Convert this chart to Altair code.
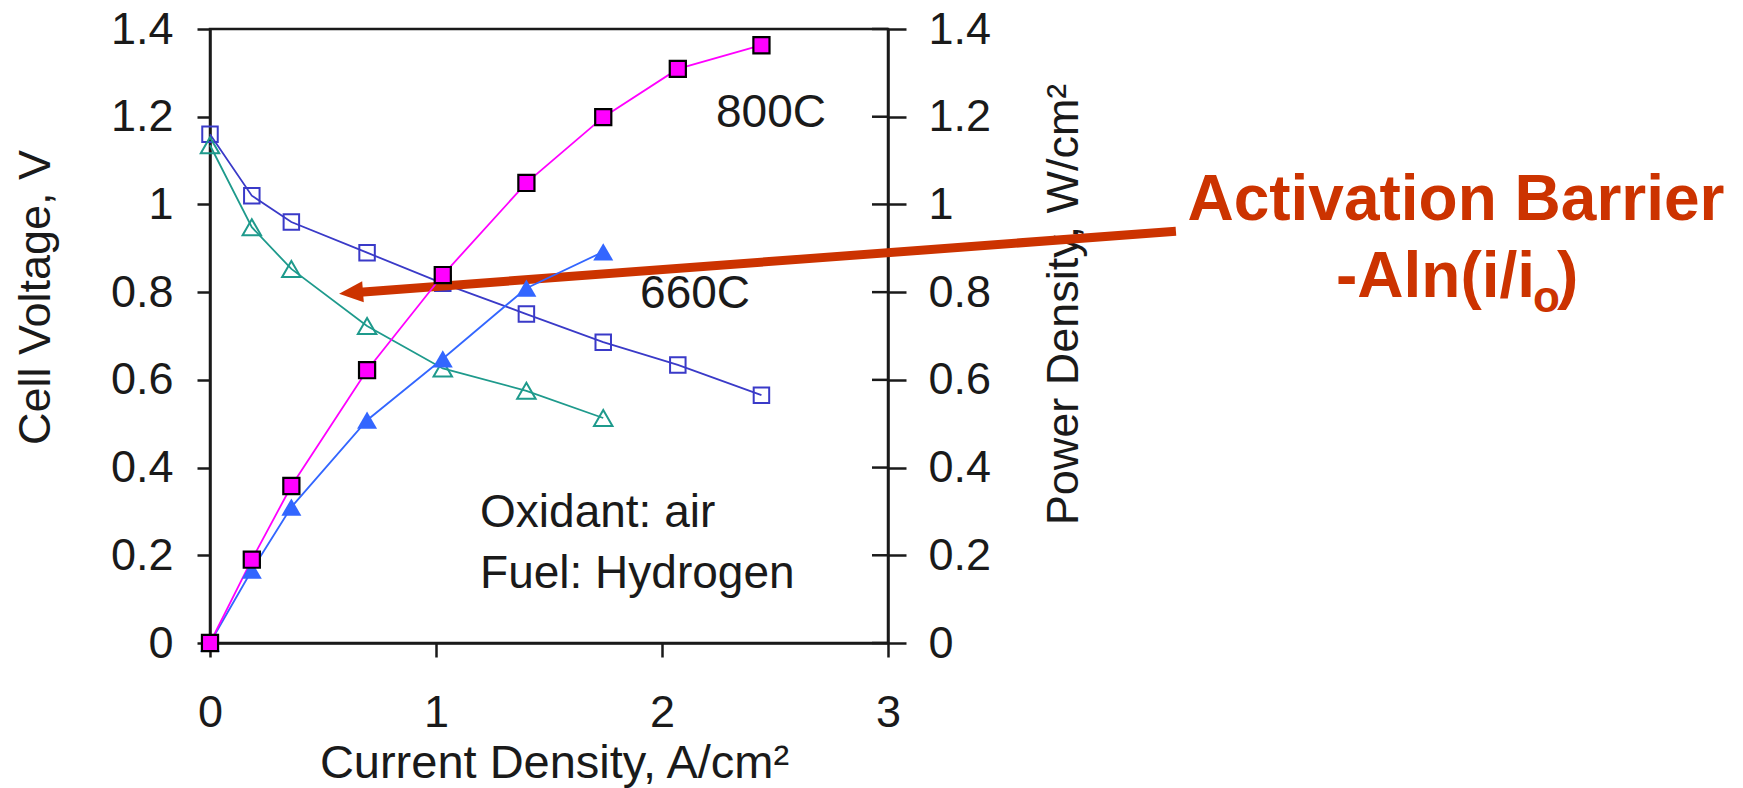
import altair as alt
import pandas as pd

# ---------------- data ----------------
current_800 = [0, 0.185, 0.36, 0.695, 1.03, 1.40, 1.74, 2.07, 2.44]
voltage_800 = [1.16, 1.02, 0.96, 0.89, 0.82, 0.75, 0.686, 0.634, 0.565]
power_800 = [0, 0.19, 0.358, 0.622, 0.839, 1.049, 1.199, 1.309, 1.363]

current_660 = [0, 0.185, 0.36, 0.695, 1.03, 1.40, 1.74]
voltage_660 = [1.135, 0.948, 0.853, 0.723, 0.626, 0.575, 0.513]
power_660 = [0, 0.166, 0.31, 0.508, 0.648, 0.809, 0.892]

x_ticks = [0, 1, 2, 3]
y_ticks = [0, 0.2, 0.4, 0.6, 0.8, 1, 1.2, 1.4]

# annotation texts and anchor positions (data units)
note_text = ["800C", "660C", "Oxidant: air", "Fuel: Hydrogen"]
note_x = [2.239, 1.903, 1.195, 1.195]
note_y = [1.176, 0.764, 0.264, 0.125]

barrier_line1 = ["Activation Barrier"]
barrier_line1_x = [5.513]
barrier_line1_y = [0.964]
barrier_main = ["-Aln(i/i"]
barrier_main_x = [5.863]
barrier_main_y = [0.789]
barrier_sub = ["o"]
barrier_sub_x = [5.854]
barrier_sub_y = [0.755]
barrier_close = [")"]
barrier_close_x = [5.960]
barrier_close_y = [0.789]

arrow_x = [4.274]
arrow_y = [0.939]
arrow_x2 = [0.664]
arrow_y2 = [0.800]
arrowhead_x = [0.624]
arrowhead_y = [0.7987]

# ---------------- styling ----------------
W, H = 678, 614
FONT = "Liberation Sans"
INK = "#1a1a1a"
RED = "#CC3300"
INDIGO = "#3A3AC8"
TEAL = "#1E9A8C"
MAGENTA = "#FF00FF"
BLUE = "#3366FF"

x_enc = alt.X(
    "x:Q",
    scale=alt.Scale(domain=[0, 3], nice=False, zero=False),
    axis=alt.Axis(
        title="Current Density, A/cm²",
        values=x_ticks,
        format="~g",
        grid=False,
        labelFlush=False,
        domainColor=INK, domainWidth=2.5,
        tickColor=INK, tickWidth=2.5, tickSize=14,
        labelFont=FONT, labelFontSize=45, labelColor=INK, labelPadding=33,
        titleFont=FONT, titleFontSize=47, titleFontWeight="normal", titleColor=INK,
        titleX=344, titleY=134, titleBaseline="alphabetic", titleAlign="center",
    ),
)

def y_left():
    return alt.Y(
        "y:Q",
        scale=alt.Scale(domain=[0, 1.4], nice=False, zero=False),
        axis=alt.Axis(
            title="Cell Voltage, V",
            orient="left",
            values=y_ticks,
            format="~g",
            grid=False,
            labelFlush=False,
            domainColor=INK, domainWidth=2.5,
            tickColor=INK, tickWidth=2.5, tickSize=13,
            labelFont=FONT, labelFontSize=45, labelColor=INK, labelPadding=24,
            titleFont=FONT, titleFontSize=45, titleFontWeight="normal", titleColor=INK,
            titleAngle=270, titleX=-175, titleY=268, titleBaseline="middle", titleAlign="center",
        ),
    )

def y_right():
    return alt.Y(
        "y:Q",
        scale=alt.Scale(domain=[0, 1.4], nice=False, zero=False),
        axis=alt.Axis(
            title="Power Density, W/cm²",
            orient="right",
            values=y_ticks,
            format="~g",
            grid=False,
            labelFlush=False,
            domainColor=INK, domainWidth=2.5,
            tickColor=INK, tickWidth=2.5, tickSize=18,
            labelFont=FONT, labelFontSize=45, labelColor=INK, labelPadding=22,
            titleFont=FONT, titleFontSize=45, titleFontWeight="normal", titleColor=INK,
            titleAngle=270, titleX=175, titleY=275, titleBaseline="middle", titleAlign="center",
        ),
    )

def df(xs, ys, **extra):
    d = pd.DataFrame({"x": xs, "y": ys})
    for k, v in extra.items():
        d[k] = v
    return d

# ---------------- voltage (left axis) ----------------
v800 = df(current_800, voltage_800)
v660 = df(current_660, voltage_660)

v800_line = alt.Chart(v800).mark_line(color=INDIGO, strokeWidth=1.8).encode(x=x_enc, y=y_left())
v800_pts = alt.Chart(v800).mark_point(shape="square", filled=False, color=INDIGO, size=240, strokeWidth=2, opacity=1).encode(x=x_enc, y=y_left())
v660_line = alt.Chart(v660).mark_line(color=TEAL, strokeWidth=1.8).encode(x=x_enc, y=y_left())
v660_pts = alt.Chart(v660).mark_point(shape="triangle-up", filled=False, color=TEAL, size=340, strokeWidth=2, opacity=1).encode(x=x_enc, y=y_left())

notes = alt.Chart(pd.DataFrame({"x": note_x, "y": note_y, "t": note_text})).mark_text(
    font=FONT, fontSize=46, color=INK, align="left", baseline="alphabetic"
).encode(x=x_enc, y=y_left(), text="t:N")

arrow = alt.Chart(pd.DataFrame({"x": arrow_x, "y": arrow_y, "x2": arrow_x2, "y2": arrow_y2})).mark_rule(
    color=RED, strokeWidth=9, strokeCap="butt"
).encode(x=x_enc, y=y_left(), x2="x2:Q", y2="y2:Q")

head = alt.Chart(df(arrowhead_x, arrowhead_y)).mark_point(
    shape="M-1,0L1,-0.875L1,0.875Z", filled=True, color=RED, size=576, angle=355.6, opacity=1
).encode(x=x_enc, y=y_left())

BFS = 64
b1 = alt.Chart(pd.DataFrame({"x": barrier_line1_x, "y": barrier_line1_y, "t": barrier_line1})).mark_text(
    font=FONT, fontWeight="bold", fontSize=BFS, color=RED, align="center", baseline="alphabetic"
).encode(x=x_enc, y=y_left(), text="t:N")
b2 = alt.Chart(pd.DataFrame({"x": barrier_main_x, "y": barrier_main_y, "t": barrier_main})).mark_text(
    font=FONT, fontWeight="bold", fontSize=BFS, color=RED, align="right", baseline="alphabetic"
).encode(x=x_enc, y=y_left(), text="t:N")
b3 = alt.Chart(pd.DataFrame({"x": barrier_sub_x, "y": barrier_sub_y, "t": barrier_sub})).mark_text(
    font=FONT, fontWeight="bold", fontSize=44, color=RED, align="left", baseline="alphabetic"
).encode(x=x_enc, y=y_left(), text="t:N")
b4 = alt.Chart(pd.DataFrame({"x": barrier_close_x, "y": barrier_close_y, "t": barrier_close})).mark_text(
    font=FONT, fontWeight="bold", fontSize=BFS, color=RED, align="left", baseline="alphabetic"
).encode(x=x_enc, y=y_left(), text="t:N")

voltage_layer = alt.layer(v800_line, v660_line, v800_pts, v660_pts, notes, arrow, head, b1, b2, b3, b4)

# ---------------- power (right axis) ----------------
p800 = df(current_800, power_800)
p660 = df(current_660, power_660)

p800_line = alt.Chart(p800).mark_line(color=MAGENTA, strokeWidth=1.8).encode(x=x_enc, y=y_right())
p800_pts = alt.Chart(p800).mark_point(shape="square", filled=True, fill=MAGENTA, stroke="black", strokeWidth=2.2, size=260, opacity=1).encode(x=x_enc, y=y_right())
p660_line = alt.Chart(p660).mark_line(color=BLUE, strokeWidth=1.8).encode(x=x_enc, y=y_right())
p660_pts = alt.Chart(p660).mark_point(shape="triangle-up", filled=True, color=BLUE, size=400, opacity=1).encode(x=x_enc, y=y_right())

inner_ticks = alt.Chart(pd.DataFrame({"y": y_ticks})).mark_rule(color=INK, strokeWidth=2.5).encode(
    y=y_right(), x=alt.value(W - 16), x2=alt.value(W)
)

power_layer = alt.layer(inner_ticks, p660_line, p800_line, p660_pts, p800_pts)

chart = (
    alt.layer(voltage_layer, power_layer)
    .resolve_scale(y="independent")
    .properties(
        width=W,
        height=H,
        padding={"left": 210, "top": 29, "right": 1743 - 210 - W, "bottom": 788 - 29 - H},
        autosize=alt.AutoSizeParams(type="none"),
        background="white",
    )
    .configure_view(stroke=INK, strokeWidth=2.5)
)

chart.save("out.html", embed_options={"renderer": "svg", "actions": False})
